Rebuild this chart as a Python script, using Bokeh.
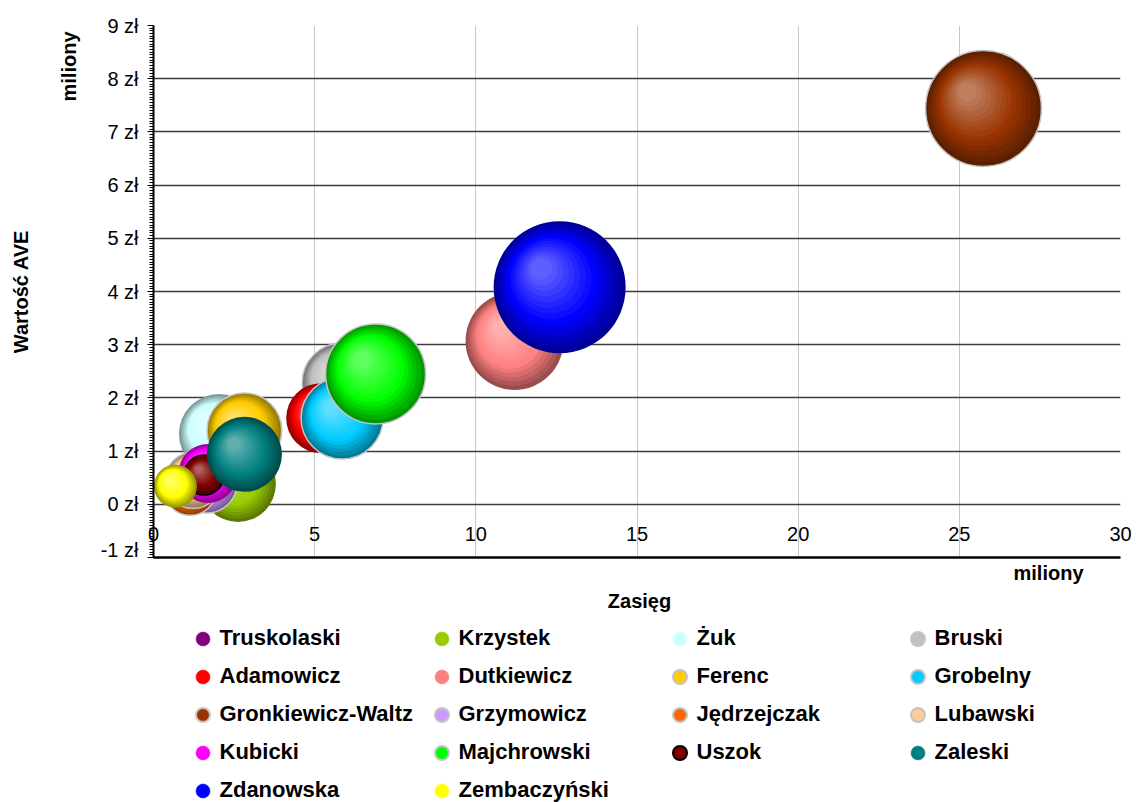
import math
from bokeh.plotting import figure
from bokeh.layouts import column
from bokeh.models import (ColumnDataSource, Legend, LegendItem, Label, Title,
                          SingleIntervalTicker, PrintfTickFormatter, Range1d)
from bokeh.embed import file_html
from bokeh.resources import INLINE

# ---------------- data ----------------
nazwiska = ["Truskolaski", "Krzystek", "Żuk", "Bruski",
            "Adamowicz", "Dutkiewicz", "Ferenc", "Grobelny",
            "Gronkiewicz-Waltz", "Grzymowicz", "Jędrzejczak", "Lubawski",
            "Kubicki", "Majchrowski", "Uszok", "Zaleski",
            "Zdanowska", "Zembaczyński"]
# Zasięg (miliony)
zasieg = [1.60, 2.62, 2.03, 5.85,
          5.20, 11.20, 2.82, 5.85,
          25.75, 1.66, 1.14, 1.23,
          1.69, 6.89, 1.57, 2.82,
          12.60, 0.68]
# Wartość AVE (miliony zł)
wartosc = [0.50, 0.38, 1.32, 2.28,
           1.62, 3.07, 1.39, 1.62,
           7.44, 0.40, 0.28, 0.45,
           0.58, 2.45, 0.55, 0.94,
           4.08, 0.34]
# bubble magnitude (relative)
wielkosc = [5.2, 33.0, 36.7, 36.7,
            28.0, 55.0, 32.0, 38.6,
            77.0, 20.7, 15.5, 18.0,
            20.0, 57.4, 9.2, 32.3,
            100.0, 10.6]

x_tick_step = 5
y_tick_step = 1

# ---------------- styles ----------------
kolory = ["#800080", "#99cc00", "#ccffff", "#c0c0c0",
          "#ff0000", "#ff8080", "#ffcc00", "#00ccff",
          "#993300", "#cc99ff", "#ff6600", "#ffcc99",
          "#ff00ff", "#00ff00", "#800000", "#008080",
          "#0000ff", "#ffff00"]
G = "#c4c4c4"
obrys = [None, None, None, G,
         None, None, G, G,
         G, G, G, G,
         None, G, "#000000", None,
         None, None]

FONT = "Liberation Sans"
FW, FH = 967, 532
LEFT, TOP, RIGHT, BOTTOM = 153, 25, 12, 3
X0, X1, Y0, Y1 = 0, 30, -1, 9
kx = FW / (X1 - X0)
ky = FH / (Y1 - Y0)
R_MAX = 66.0
TOTAL_W = LEFT + FW + RIGHT
TOTAL_H = 802
MAIN_H = TOP + FH + BOTTOM

p = figure(frame_width=FW, frame_height=FH,
           x_range=Range1d(X0, X1), y_range=Range1d(Y0, Y1),
           output_backend="svg", toolbar_location=None,
           min_border_left=LEFT, min_border_right=RIGHT,
           min_border_top=TOP, min_border_bottom=BOTTOM)
p.outline_line_color = None
p.background_fill_color = "white"

# grids
p.xgrid.grid_line_color = "#c8c8c8"
p.xgrid.grid_line_width = 1
p.ygrid.grid_line_color = "#3c3c3c"
p.ygrid.grid_line_width = 1.4

# axes
p.xaxis.ticker = SingleIntervalTicker(interval=x_tick_step, num_minor_ticks=0)
p.yaxis.ticker = SingleIntervalTicker(interval=y_tick_step, num_minor_ticks=20)
p.yaxis.formatter = PrintfTickFormatter(format="%d zł")

p.yaxis.axis_line_color = "black"
p.yaxis.axis_line_width = 2
p.yaxis.major_tick_out = 6
p.yaxis.major_tick_in = 0
p.yaxis.minor_tick_out = 4
p.yaxis.minor_tick_in = 0
p.yaxis.minor_tick_line_color = "black"
p.yaxis.major_tick_line_color = "black"
p.yaxis.major_label_text_font = FONT
p.yaxis.major_label_text_font_size = "20px"
p.yaxis.major_label_text_color = "black"
p.yaxis.major_label_standoff = 9

p.xaxis.axis_line_color = "black"
p.xaxis.axis_line_width = 2.5
p.xaxis.major_tick_out = 0
p.xaxis.major_tick_in = 0
p.xaxis.minor_tick_line_color = None
p.xaxis.major_label_text_font = FONT
p.xaxis.major_label_text_font_size = "20px"
p.xaxis.major_label_text_color = "black"
p.xaxis.major_label_standoff = -31

# left-side captions (nearest the axis first)
p.add_layout(Title(text="miliony", align="right", text_font=FONT,
                   text_font_size="20px", text_font_style="bold",
                   text_color="black", standoff=36, offset=6), "left")
p.add_layout(Title(text="Wartość AVE", align="center", text_font=FONT,
                   text_font_size="20px", text_font_style="bold",
                   text_color="black", standoff=12), "left")


def mix(c1, c2, t):
    return tuple(c1[i] + (c2[i] - c1[i]) * t for i in range(3))


def hex2rgb(h):
    h = h.lstrip("#")
    return tuple(int(h[i:i + 2], 16) for i in (0, 2, 4))


def rgb2hex(c):
    return "#%02x%02x%02x" % tuple(max(0, min(255, int(round(v)))) for v in c)


def shade(base, t):
    b = hex2rgb(base)
    dark = tuple(v * 0.6 for v in b)
    light = tuple(v + 0.42 * (255 - v) for v in b)
    if t < 0.35:
        return rgb2hex(mix(dark, b, t / 0.35))
    return rgb2hex(mix(b, light, (t - 0.35) / 0.65))


vmax = max(wielkosc)
N = 14
for i, name in enumerate(nazwiska):
    r = R_MAX * math.sqrt(wielkosc[i] / vmax)
    xs, ys, sz, fc, lc, la = [], [], [], [], [], []
    for k in range(N):
        t = k / N
        rk = r * (1 - 0.9 * t)
        xs.append(zasieg[i] - 0.3 * r * t / kx)
        ys.append(wartosc[i] + 0.3 * r * t / ky)
        sz.append(2 * rk)
        fc.append(shade(kolory[i], t))
        if k == 0 and obrys[i] is not None:
            lc.append(obrys[i]); la.append(1.0)
        else:
            lc.append("#000000"); la.append(0.0)
    src = ColumnDataSource(dict(x=xs, y=ys, s=sz, fc=fc, lc=lc, la=la))
    p.scatter("x", "y", size="s", source=src, marker="circle",
              fill_color="fc", line_color="lc", line_alpha="la", line_width=1.5)

# ---------------- lower panel: axis captions and legend ----------------
LG_H = TOTAL_H - MAIN_H
lg = figure(width=TOTAL_W, height=LG_H, x_range=Range1d(0, TOTAL_W),
            y_range=Range1d(0, LG_H), output_backend="svg",
            toolbar_location=None, x_axis_type=None, y_axis_type=None,
            min_border=0, min_border_left=0, min_border_right=0,
            min_border_top=0, min_border_bottom=0)
lg.outline_line_color = None
lg.xgrid.visible = False
lg.ygrid.visible = False

legend_renderers = []
for i in range(len(nazwiska)):
    lr = lg.scatter([float("nan")], [float("nan")], marker="circle",
                    fill_color=kolory[i],
                    line_color=(obrys[i] if obrys[i] else kolory[i]),
                    line_width=(2 if obrys[i] else 0.5))
    legend_renderers.append(lr)


# page coords -> lower-panel frame coords (frame is aligned with the plot frame)
def up(page_y):
    return TOTAL_H - page_y


def rx(page_x):
    return page_x - LEFT


col_centers = [202, 441, 679, 917]   # marker centres, page px
GLY = 35
SP = 3
first_row = 638
for c in range(4):
    idx = list(range(c, len(nazwiska), 4))
    items = [LegendItem(label=nazwiska[j], renderers=[legend_renderers[j]]) for j in idx]
    h = len(idx) * GLY + (len(idx) - 1) * SP
    top_page = first_row - GLY / 2
    lgd = Legend(items=items, location=(rx(col_centers[c] - GLY / 2), up(top_page + h)),
                 orientation="vertical",
                 glyph_width=GLY, glyph_height=GLY, label_height=GLY,
                 spacing=SP, padding=0, margin=0, label_standoff=-4,
                 border_line_color=None, background_fill_alpha=0,
                 label_text_font=FONT, label_text_font_size="22px",
                 label_text_font_style="bold", label_text_color="black")
    lg.add_layout(lgd, "center")

common = dict(text_font=FONT, text_font_size="20px", text_font_style="bold",
              text_color="black", text_align="center", text_baseline="middle",
              x_units="screen", y_units="screen")
lg.add_layout(Label(x=rx(1048), y=up(572), text="miliony", **common))
lg.add_layout(Label(x=rx(639), y=up(600), text="Zasięg", **common))

layout = column(p, lg, spacing=0)
open("out.html", "w").write(file_html(layout, INLINE))
